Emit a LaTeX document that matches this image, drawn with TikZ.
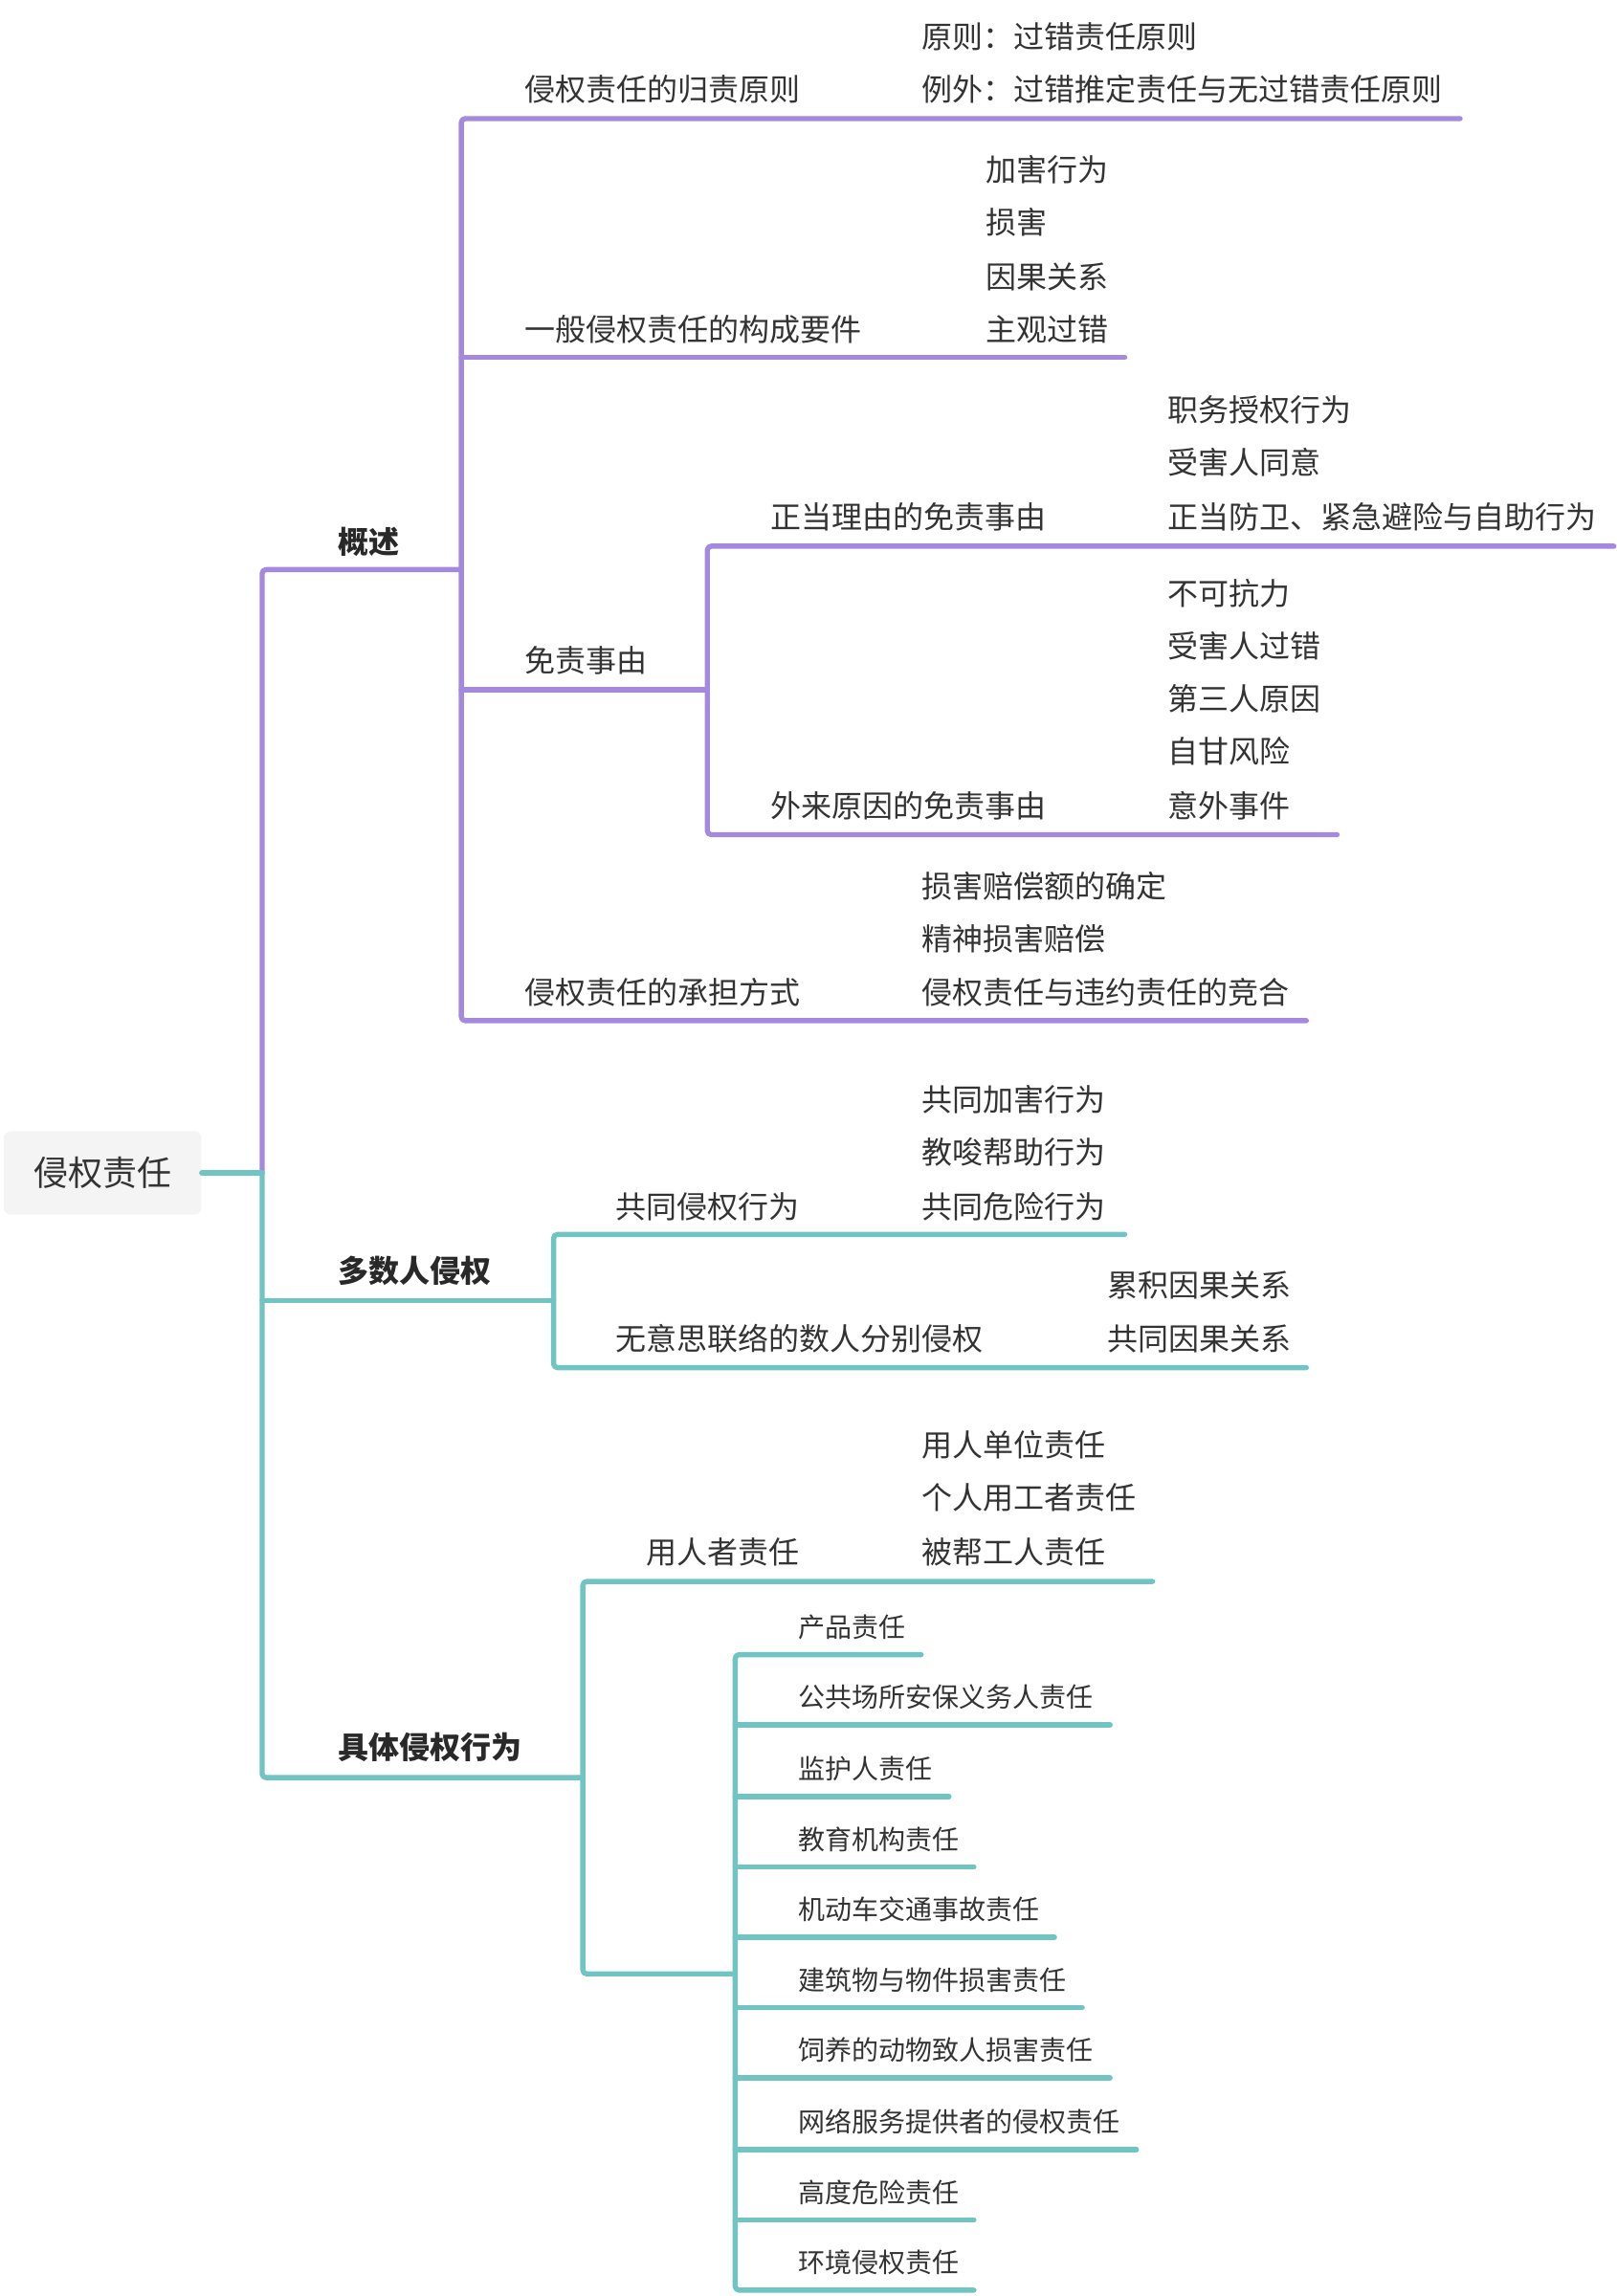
\documentclass[tikz,border=0pt]{standalone}
\usepackage{fontspec}
\setmainfont{Noto Sans CJK SC}
\usepackage{tikz}
\definecolor{lilac}{RGB}{165,137,222}
\definecolor{aqua}{RGB}{112,196,196}
\definecolor{ink}{HTML}{333333}
\definecolor{boxgrey}{HTML}{F4F4F4}

\begin{document}
\begin{tikzpicture}[x=0.7654pt, y=-0.7654pt,
        pline/.style={draw=lilac, line width=2.7pt, line cap=round, line join=round, rounded corners=2pt},
        tline/.style={draw=aqua, line width=2.7pt, line cap=round, line join=round, rounded corners=2pt},
        topic/.style={anchor=west, inner sep=0pt, text=ink, font=\fontsize{16pt}{16pt}\selectfont},
        main/.style={anchor=west, inner sep=0pt, text=ink!80!black, font=\fontsize{16pt}{16pt}\selectfont\bfseries},
        item/.style={anchor=west, inner sep=0pt, text=ink, font=\fontsize{14pt}{14pt}\selectfont},
        rootbox/.style={fill=boxgrey, rounded corners=3.5pt, minimum width=103.3pt, minimum height=43.6pt,
            inner sep=0pt, text=ink, font=\fontsize{18pt}{18pt}\selectfont}]
        \useasboundingbox (0,0) rectangle (1104,1568);

        \node[rootbox] (root) at (70,801) {侵权责任};
        \node[main] (gs) at (231,370) {概述};
        \node[main] (dsr) at (231,868) {多数人侵权};
        \node[main] (jt) at (231,1193) {具体侵权行为};

        \node[topic] (gz) at (358,61) {侵权责任的归责原则};
        \node[topic] (gz1) at (629,25) {原则：过错责任原则};
        \node[topic] (gz2) at (629,61) {例外：过错推定责任与无过错责任原则};
        \node[topic] (gc) at (358,225) {一般侵权责任的构成要件};
        \node[topic] (gc1) at (673,116) {加害行为};
        \node[topic] (gc2) at (673,152) {损害};
        \node[topic] (gc3) at (673,189) {因果关系};
        \node[topic] (gc4) at (673,225) {主观过错};
        \node[topic] (mz) at (358,451) {免责事由};
        \node[topic] (zd) at (526,353) {正当理由的免责事由};
        \node[topic] (zd1) at (797,280) {职务授权行为};
        \node[topic] (zd2) at (797,316) {受害人同意};
        \node[topic] (zd3) at (797,353) {正当防卫、紧急避险与自助行为};
        \node[topic] (wy) at (526,550) {外来原因的免责事由};
        \node[topic] (wy1) at (797,405) {不可抗力};
        \node[topic] (wy2) at (797,441) {受害人过错};
        \node[topic] (wy3) at (797,477) {第三人原因};
        \node[topic] (wy4) at (797,513) {自甘风险};
        \node[topic] (wy5) at (797,550) {意外事件};
        \node[topic] (cd) at (358,678) {侵权责任的承担方式};
        \node[topic] (cd1) at (629,605) {损害赔偿额的确定};
        \node[topic] (cd2) at (629,641) {精神损害赔偿};
        \node[topic] (cd3) at (629,678) {侵权责任与违约责任的竞合};

        \node[topic] (gq) at (420,824) {共同侵权行为};
        \node[topic] (gq1) at (629,751) {共同加害行为};
        \node[topic] (gq2) at (629,787) {教唆帮助行为};
        \node[topic] (gq3) at (629,824) {共同危险行为};
        \node[topic] (fb) at (420,914) {无意思联络的数人分别侵权};
        \node[topic] (fb1) at (756,878) {累积因果关系};
        \node[topic] (fb2) at (756,914) {共同因果关系};

        \node[topic] (yr) at (441,1060) {用人者责任};
        \node[topic] (yr1) at (629,987) {用人单位责任};
        \node[topic] (yr2) at (629,1023) {个人用工者责任};
        \node[topic] (yr3) at (629,1060) {被帮工人责任};
        \node[item] (cp) at (545,1111) {产品责任};
        \node[item] (ab) at (545,1159) {公共场所安保义务人责任};
        \node[item] (jh) at (545,1208) {监护人责任};
        \node[item] (jy) at (545,1256) {教育机构责任};
        \node[item] (jd) at (545,1304) {机动车交通事故责任};
        \node[item] (jz) at (545,1352) {建筑物与物件损害责任};
        \node[item] (sy) at (545,1400) {饲养的动物致人损害责任};
        \node[item] (wf) at (545,1449) {网络服务提供者的侵权责任};
        \node[item] (gd) at (545,1497) {高度危险责任};
        \node[item] (hj) at (545,1545) {环境侵权责任};

        \coordinate (fork) at (179,801);
        \coordinate (gs-a) at (179,389); \coordinate (gs-b) at (315,389);
        \coordinate (dsr-a) at (179,888); \coordinate (dsr-b) at (378,888);
        \coordinate (jt-a) at (179,1214); \coordinate (jt-b) at (398,1214);
        \coordinate (gz-a) at (315,81); \coordinate (gz-b) at (997,81);
        \coordinate (gc-a) at (315,244); \coordinate (gc-b) at (768,244);
        \coordinate (mz-a) at (315,471); \coordinate (mz-b) at (483,471);
        \coordinate (cd-a) at (315,697); \coordinate (cd-b) at (892,697);
        \coordinate (zd-a) at (483,373); \coordinate (zd-b) at (1102,373);
        \coordinate (wy-a) at (483,570); \coordinate (wy-b) at (913,570);
        \coordinate (gq-a) at (378,843); \coordinate (gq-b) at (768,843);
        \coordinate (fb-a) at (378,934); \coordinate (fb-b) at (892,934);
        \coordinate (yr-a) at (398,1080); \coordinate (yr-b) at (787,1080);
        \coordinate (qt-a) at (398,1348); \coordinate (qt-b) at (502,1348);
        \coordinate (cp-a) at (502,1130); \coordinate (cp-b) at (629,1130);
        \coordinate (ab-a) at (502,1178); \coordinate (ab-b) at (758,1178);
        \coordinate (jh-a) at (502,1227); \coordinate (jh-b) at (648,1227);
        \coordinate (jy-a) at (502,1275); \coordinate (jy-b) at (665,1275);
        \coordinate (jd-a) at (502,1323); \coordinate (jd-b) at (720,1323);
        \coordinate (jz-a) at (502,1371); \coordinate (jz-b) at (739,1371);
        \coordinate (sy-a) at (502,1419); \coordinate (sy-b) at (758,1419);
        \coordinate (wf-a) at (502,1468); \coordinate (wf-b) at (776,1468);
        \coordinate (gd-a) at (502,1516); \coordinate (gd-b) at (665,1516);
        \coordinate (hj-a) at (502,1564); \coordinate (hj-b) at (665,1564);

        \draw[pline] (fork) -- (gs-a) -- (gs-b);
        \draw[pline] (gz-b) -- (gz-a) -- (cd-a) -- (cd-b);
        \draw[pline] (gc-a) -- (gc-b);
        \draw[pline] (mz-a) -- (mz-b);
        \draw[pline] (zd-b) -- (zd-a) -- (wy-a) -- (wy-b);

        \draw[tline] (root) -- (fork);
        \draw[tline] (fork) -- (jt-a) -- (jt-b);
        \draw[tline] (dsr-a) -- (dsr-b);
        \draw[tline] (gq-b) -- (gq-a) -- (fb-a) -- (fb-b);
        \draw[tline] (yr-b) -- (yr-a) -- (qt-a) -- (qt-b);
        \draw[tline] (cp-b) -- (cp-a) -- (hj-a) -- (hj-b);
        \draw[tline] (ab-a) -- (ab-b);
        \draw[tline] (jh-a) -- (jh-b);
        \draw[tline] (jy-a) -- (jy-b);
        \draw[tline] (jd-a) -- (jd-b);
        \draw[tline] (jz-a) -- (jz-b);
        \draw[tline] (sy-a) -- (sy-b);
        \draw[tline] (wf-a) -- (wf-b);
        \draw[tline] (gd-a) -- (gd-b);
    \end{tikzpicture}
\end{document}
